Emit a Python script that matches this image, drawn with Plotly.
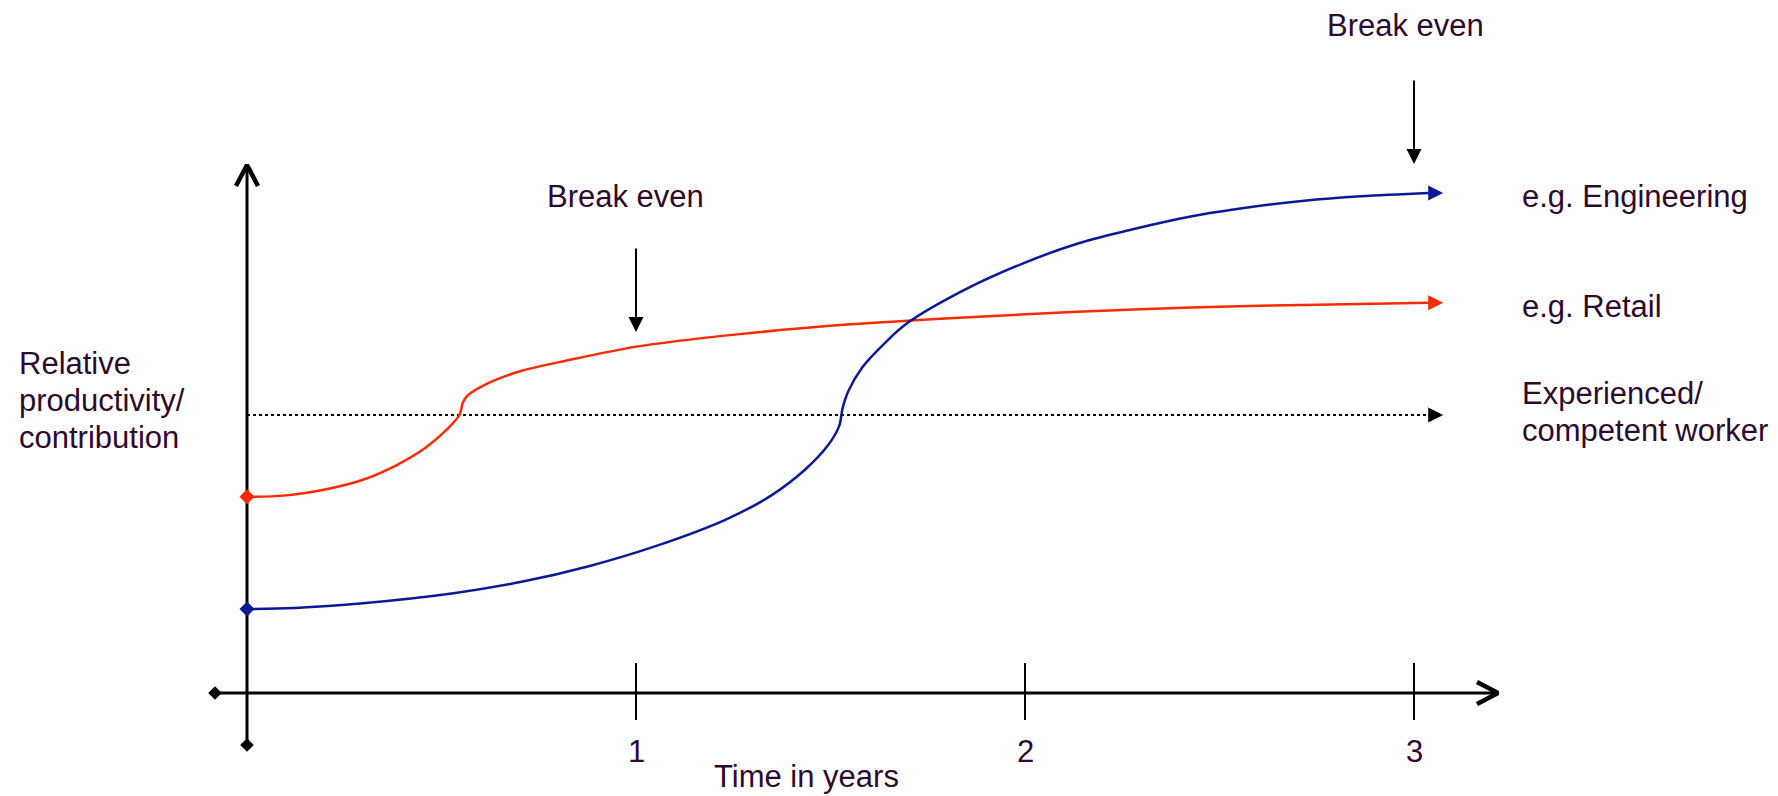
import plotly.graph_objects as go

# ---------------- data ----------------
retail_x = [0.0, 0.094, 0.21, 0.298, 0.385, 0.458, 0.516, 0.546, 0.555, 0.566, 0.619, 0.706,
            0.822, 0.997, 1.26, 1.551, 1.843, 2.134, 2.426, 2.718, 3.038]
retail_y = [0.706, 0.710, 0.735, 0.767, 0.820, 0.881, 0.951, 1.0, 1.045, 1.069, 1.114, 1.159,
            1.196, 1.245, 1.29, 1.326, 1.351, 1.371, 1.387, 1.396, 1.404]

eng_x = [0.0, 0.123, 0.298, 0.531, 0.706, 0.881, 1.056, 1.231, 1.347, 1.435, 1.493, 1.522,
         1.531, 1.546, 1.581, 1.639, 1.697, 1.843, 1.989, 2.134, 2.280, 2.426, 2.572, 2.718,
         2.863, 3.038]
eng_y = [0.302, 0.306, 0.323, 0.359, 0.400, 0.457, 0.531, 0.624, 0.710, 0.804, 0.890, 0.959,
         1.024, 1.086, 1.170, 1.258, 1.330, 1.449, 1.542, 1.616, 1.669, 1.714, 1.746, 1.771,
         1.787, 1.799]

experienced_level = 1.0
line_end_x = 3.075
tick_values = [1, 2, 3]
tick_labels = ["1", "2", "3"]
break_even_x = [1, 3]
series_labels = ["e.g. Engineering", "e.g. Retail"]
experienced_label = ["Experienced/", "competent worker"]
y_title_lines = ["Relative", "productivity/", "contribution"]
x_title = "Time in years"

# ---------------- geometry ----------------
W, H = 1778, 796
ORIGIN_PX = (247, 693)
PX_X = 389.0   # px per year
PX_Y = 278.0   # px per unit
def dx(px): return px / PX_X
def dy(px): return px / PX_Y
def vx(p): return (p - ORIGIN_PX[0]) / PX_X
def vy(p): return (ORIGIN_PX[1] - p) / PX_Y

x_range = [vx(0), vx(W)]
y_range = [vy(H), vy(0)]

RED = "#ff2a00"
BLUE = "#0a1a96"
TEXT = "#2e0a2e"
FONT = "Liberation Sans, Arial, sans-serif"
FS = 31

fig = go.Figure()

# axes
x_axis_start, x_axis_end = vx(215), vx(1498)
y_axis_start, y_axis_end = vy(745), vy(165)
fig.add_trace(go.Scatter(x=[x_axis_start, x_axis_end], y=[0, 0], mode="lines",
                         line=dict(color="black", width=3), hoverinfo="skip"))
fig.add_trace(go.Scatter(x=[0, 0], y=[y_axis_start, y_axis_end], mode="lines",
                         line=dict(color="black", width=3), hoverinfo="skip"))
# chevron arrow heads
fig.add_trace(go.Scatter(x=[x_axis_end - dx(21), x_axis_end, x_axis_end - dx(21)],
                         y=[dy(11), 0, -dy(11)], mode="lines",
                         line=dict(color="black", width=4.5), hoverinfo="skip"))
fig.add_trace(go.Scatter(x=[-dx(11), 0, dx(11)],
                         y=[y_axis_end - dy(21), y_axis_end, y_axis_end - dy(21)], mode="lines",
                         line=dict(color="black", width=4.5), hoverinfo="skip"))
# end diamonds
fig.add_trace(go.Scatter(x=[x_axis_start, 0], y=[0, y_axis_start], mode="markers",
                         marker=dict(symbol="diamond", size=10.5, color="black"), hoverinfo="skip"))
# ticks
for t in tick_values:
    fig.add_trace(go.Scatter(x=[t, t], y=[vy(663), vy(720)], mode="lines",
                             line=dict(color="black", width=2), hoverinfo="skip"))

# experienced dotted line
fig.add_trace(go.Scatter(x=[0, line_end_x - dx(14)], y=[experienced_level] * 2, mode="lines",
                         line=dict(color="black", width=2.2, dash="dot"), hoverinfo="skip"))

# series
fig.add_trace(go.Scatter(x=retail_x, y=retail_y, mode="lines",
                         line=dict(color=RED, width=2.5, shape="spline", smoothing=0.8),
                         hoverinfo="skip"))
fig.add_trace(go.Scatter(x=eng_x, y=eng_y, mode="lines",
                         line=dict(color=BLUE, width=2.5, shape="spline", smoothing=1.0),
                         hoverinfo="skip"))
fig.add_trace(go.Scatter(x=[0], y=[retail_y[0]], mode="markers",
                         marker=dict(symbol="diamond", size=11.5, color=RED), hoverinfo="skip"))
fig.add_trace(go.Scatter(x=[0], y=[eng_y[0]], mode="markers",
                         marker=dict(symbol="diamond", size=11.5, color=BLUE), hoverinfo="skip"))

ann = []
def arrow(x0, y0, x1, y1, color, width=2):
    ann.append(dict(x=x1, y=y1, ax=x0, ay=y0, xref="x", yref="y", axref="x", ayref="y",
                    text="", showarrow=True, arrowhead=2, arrowsize=1.5 * 2 / width,
                    arrowwidth=width, arrowcolor=color, standoff=0, startstandoff=0))

arrow(retail_x[-1], retail_y[-1], line_end_x, retail_y[-1], RED, 2.5)
arrow(eng_x[-1], eng_y[-1], line_end_x, eng_y[-1], BLUE, 2.5)
arrow(line_end_x - dx(16), experienced_level, line_end_x, experienced_level, "black", 2)

# break even arrows
arrow(break_even_x[0], vy(247), break_even_x[0], vy(332), "black", 2)
arrow(break_even_x[1], vy(79), break_even_x[1], vy(164), "black", 2)

def text(x, y, s, xanchor="left"):
    ann.append(dict(x=x, y=y, xref="x", yref="y", text=s, showarrow=False,
                    xanchor=xanchor, yanchor="middle",
                    font=dict(family=FONT, size=FS, color=TEXT)))

text(vx(545), vy(196), "Break even")
text(vx(1325), vy(25), "Break even")
text(vx(1520), vy(196), series_labels[0])
text(vx(1520), vy(306), series_labels[1])
text(vx(1520), vy(393), experienced_label[0])
text(vx(1520), vy(430), experienced_label[1])
for i, s in enumerate(y_title_lines):
    text(vx(17), vy(363 + 37 * i), s)
for t, lab in zip(tick_values, tick_labels):
    text(t, vy(751), lab, xanchor="center")
text(vx(806), vy(776), x_title, xanchor="center")

fig.update_layout(
    width=W, height=H, margin=dict(l=0, r=0, t=0, b=0),
    paper_bgcolor="white", plot_bgcolor="white", showlegend=False,
    xaxis=dict(range=x_range, visible=False, fixedrange=True),
    yaxis=dict(range=y_range, visible=False, fixedrange=True),
    annotations=ann,
)

fig.write_html("out.html", config={"displayModeBar": False},
               post_script="document.body.style.margin='0';document.body.style.overflow='hidden';")
